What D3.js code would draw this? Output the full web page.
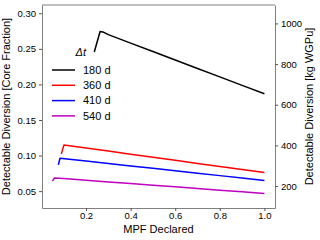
<!DOCTYPE html>
<html>
<head>
<meta charset="utf-8">
<script src="https://cdn.jsdelivr.net/npm/d3@7"></script>
<style>
    body { margin: 0; background: #fff; }
    text { font-family: "Liberation Sans", Arial, sans-serif; fill: #000; }
    .axis .domain { stroke: #808080; }
    .axis line { stroke: #555; }
</style>
</head>
<body>
<div id="chart"></div>
<script>
// data
const seriesNames = ["180 d", "360 d", "410 d", "540 d"];
const seriesColors = ["#000000", "#ff0000", "#0000ff", "#bf00bf"];

const mpf180 = [0.237, 0.263, 0.28, 0.3, 0.4, 0.5, 0.6, 0.7, 0.8, 0.9, 1.0];
const val180 = [0.2455, 0.2743, 0.2732, 0.2699, 0.2580, 0.2462, 0.2343, 0.2224, 0.2106, 0.1987, 0.1869];

const mpf360 = [0.089, 0.101, 0.2, 0.3, 0.4, 0.5, 0.6, 0.7, 0.8, 0.9, 1.0];
const val360 = [0.1024, 0.1149, 0.1106, 0.1063, 0.1020, 0.0977, 0.0934, 0.0890, 0.0847, 0.0804, 0.0761];

const mpf410 = [0.076, 0.083, 0.2, 0.3, 0.4, 0.5, 0.6, 0.7, 0.8, 0.9, 1.0];
const val410 = [0.0870, 0.0962, 0.0922, 0.0888, 0.0854, 0.0820, 0.0786, 0.0752, 0.0718, 0.0684, 0.0650];

const mpf540 = [0.05, 0.058, 0.1, 0.2, 0.3, 0.4, 0.5, 0.6, 0.7, 0.8, 0.9, 1.0];
const val540 = [0.0640, 0.0686, 0.0676, 0.0653, 0.0630, 0.0607, 0.0584, 0.0561, 0.0537, 0.0514, 0.0491, 0.0468];

const xTicks = [0.2, 0.4, 0.6, 0.8, 1.0];
const yTicks = [0.05, 0.10, 0.15, 0.20, 0.25, 0.30];
const y2Ticks = [200, 400, 600, 800, 1000];

// core fraction -> kg WGPu
const kgPerCore = 3500;

// chart size
const margin = {top: 5, right: 45, bottom: 32, left: 42};
const width = 320 - margin.left - margin.right;
const height = 240 - margin.top - margin.bottom;

const svg = d3.select("#chart").append("svg")
    .attr("width", 320)
    .attr("height", 240);
const chart = svg.append("g")
    .attr("transform", "translate(" + margin.left + "," + margin.top + ")");

const x = d3.scaleLinear().domain([0.0025, 1.0475]).range([0, width]);
const y = d3.scaleLinear().domain([0.0263, 0.3116]).range([height, 0]);
const y2 = d3.scaleLinear().domain([0.0263 * kgPerCore, 0.3116 * kgPerCore]).range([height, 0]);

// axes
chart.append("g")
    .attr("class", "x axis")
    .attr("transform", "translate(0," + height + ")")
    .call(d3.axisBottom(x).tickValues(xTicks).tickFormat(d3.format(".1f")).tickSize(3).tickPadding(1).tickSizeOuter(0));

chart.append("g")
    .attr("class", "y axis")
    .call(d3.axisLeft(y).tickValues(yTicks).tickFormat(d3.format(".2f")).tickSize(3).tickSizeOuter(0));

chart.append("g")
    .attr("class", "y2 axis")
    .attr("transform", "translate(" + width + ",0)")
    .call(d3.axisRight(y2).tickValues(y2Ticks).tickFormat(d3.format("d")).tickSize(3).tickSizeOuter(0));

chart.selectAll(".axis text").style("font-size", "9.5px");
chart.select(".y2.axis").selectAll(".tick line").attr("stroke", "#808080");

// top spine, and darker left spine
chart.append("line")
    .attr("x1", 0).attr("x2", width).attr("y1", 0).attr("y2", 0)
    .attr("stroke", "#808080");
chart.select(".y.axis .domain").attr("stroke", "#222");

// lines
const mpfs = [mpf180, mpf360, mpf410, mpf540];
const vals = [val180, val360, val410, val540];
const line = d3.line()
    .x(function (d) { return x(d[0]); })
    .y(function (d) { return y(d[1]); });

for (let i = 0; i < seriesNames.length; i++) {
    const pts = mpfs[i].map(function (m, j) { return [m, vals[i][j]]; });
    chart.append("path")
        .datum(pts)
        .attr("fill", "none")
        .attr("stroke", seriesColors[i])
        .attr("stroke-width", 1.5)
        .attr("stroke-linejoin", "round")
        .attr("d", line);
}

// delta t annotation
chart.append("text")
    .attr("x", x(0.2))
    .attr("y", y(0.2404))
    .attr("text-anchor", "end")
    .style("font-size", "11px")
    .style("font-style", "italic")
    .text("Δt");

// legend
const legend = chart.append("g")
    .attr("transform", "translate(10,65)");
seriesNames.forEach(function (name, i) {
    const row = legend.append("g").attr("transform", "translate(0," + (i * 15.3) + ")");
    row.append("line")
        .attr("x1", 0).attr("x2", 23)
        .attr("stroke", seriesColors[i])
        .attr("stroke-width", 1.5);
    row.append("text")
        .attr("x", 31)
        .attr("dy", "0.35em")
        .style("font-size", "11px")
        .text(name);
});

// axis labels
svg.append("text")
    .attr("x", margin.left + width / 2)
    .attr("y", 232.5)
    .attr("text-anchor", "middle")
    .style("font-size", "11px")
    .text("MPF Declared");

svg.append("text")
    .attr("transform", "translate(10," + (margin.top + height / 2) + ") rotate(-90)")
    .attr("text-anchor", "middle")
    .style("font-size", "11px")
    .text("Detectable Diversion [Core Fraction]");

svg.append("text")
    .attr("transform", "translate(313," + (margin.top + height / 2) + ") rotate(-90)")
    .attr("text-anchor", "middle")
    .style("font-size", "11px")
    .text("Detectable Diversion [kg WGPu]");
</script>
</body>
</html>
